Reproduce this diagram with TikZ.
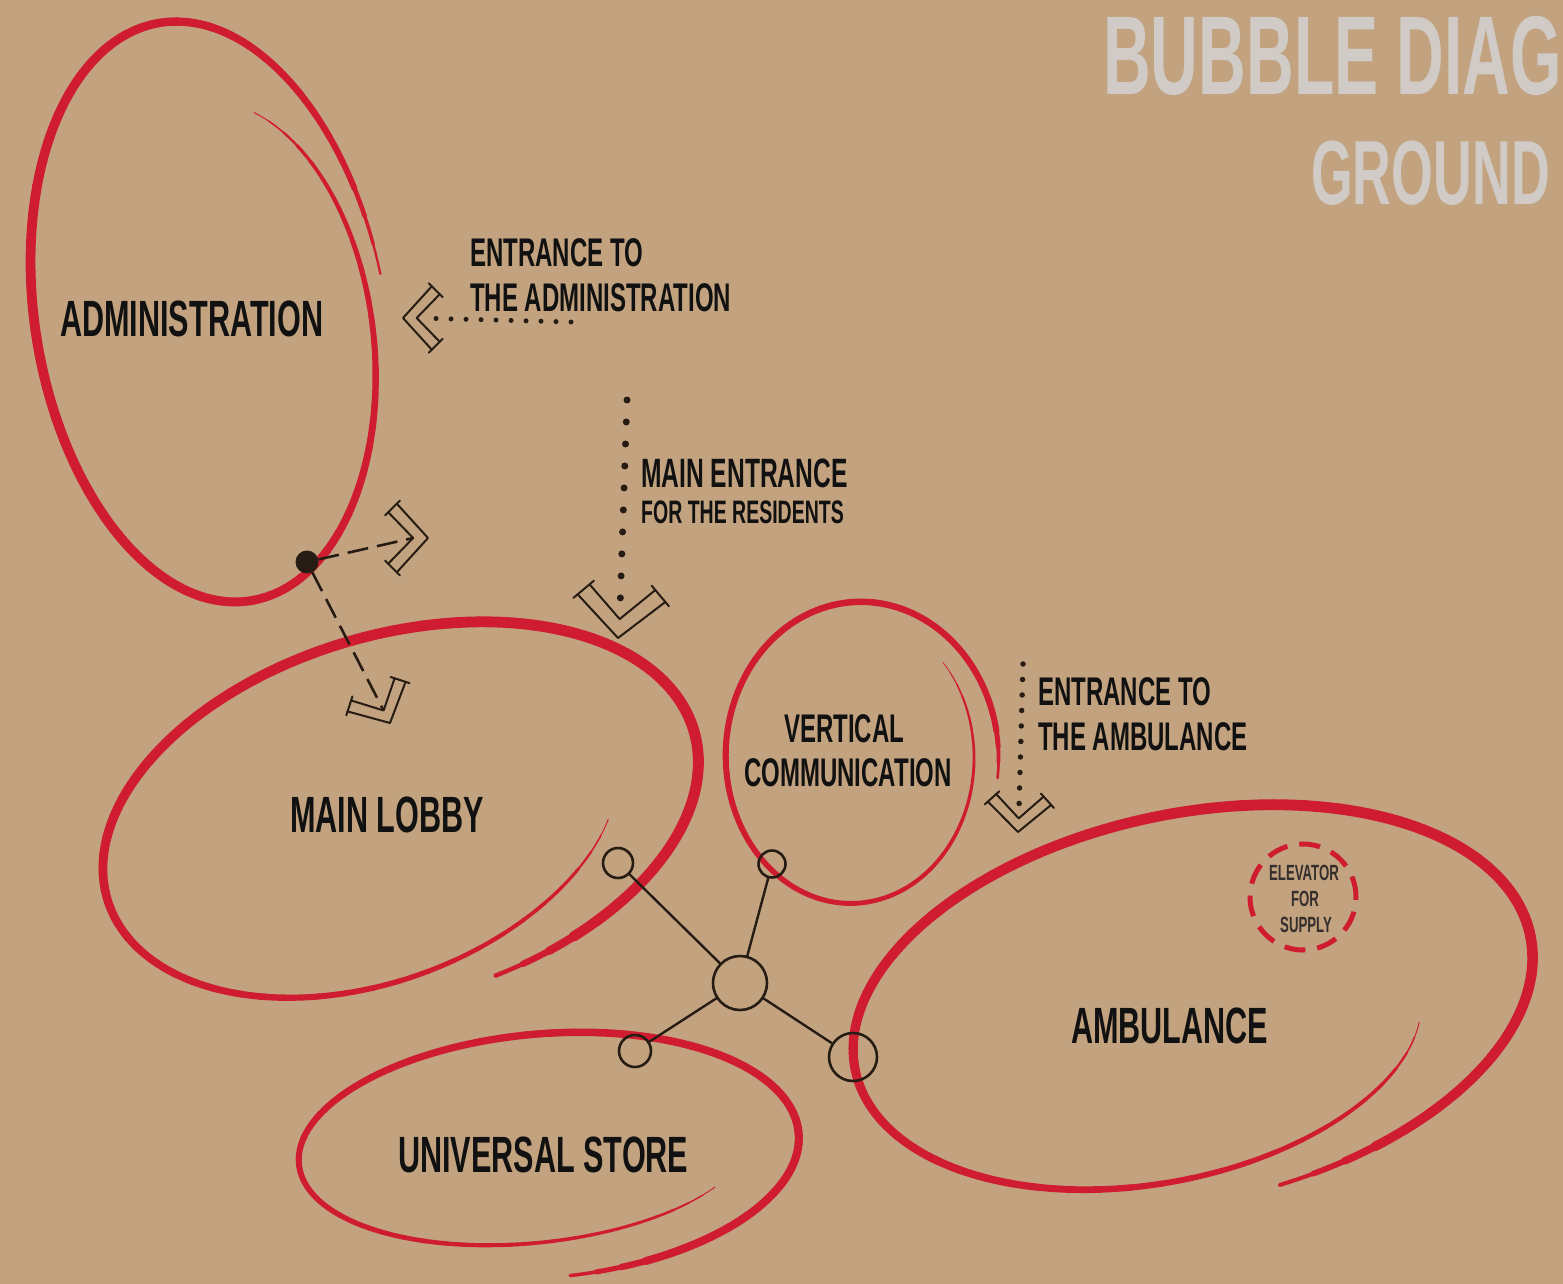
\documentclass[tikz,border=0pt]{standalone}
\usepackage{fontspec}
\newfontfamily\lab{Liberation Sans}[FakeStretch=0.6]
\newfontfamily\ttl{Liberation Sans}[FakeStretch=0.59]
\definecolor{paper}{RGB}{195,163,127}
\definecolor{bred}{RGB}{208,28,48}
\definecolor{inkc}{RGB}{38,28,20}
\definecolor{txt}{RGB}{17,17,17}
\definecolor{ttlc}{RGB}{208,203,198}
\definecolor{elevtxt}{RGB}{52,46,44}
\pgfkeys{/sp/.cd,
 cx/.store in=\spcx, cy/.store in=\spcy, rot/.store in=\sprot,
 a0/.store in=\spaa, a1/.store in=\spab, b0/.store in=\spba, b1/.store in=\spbb,
 t0/.store in=\spta, t1/.store in=\sptb, p/.store in=\spp,
 w0/.store in=\spwa, wm/.store in=\spwm, w1/.store in=\spwb}
\newcommand\redspiral[1]{%
 \pgfkeys{/sp/.cd,p=1,rot=0,#1}%
 \foreach \i in {0,...,71}{%
  \pgfmathsetmacro\sA{\i/72}%
  \pgfmathsetmacro\sB{(\i+1)/72}%
  \pgfmathsetmacro\sM{(\i+0.5)/72}%
  \pgfmathsetmacro\wd{(\spwa*(1-\sM)^2+2*\spwm*\sM*(1-\sM)+\spwb*\sM^2)*min(1,0.35+0.65*min(\sM,1-\sM)/0.05)}%
  \draw[bubble, line width=\wd pt, shift={(\spcx,\spcy)}, rotate=\sprot]
   plot[domain=\sA:\sB, samples=5, variable=\q]
   ({(\spab-(\spab-\spaa)*(1.001-\q)^\spp)*cos(\spta+(\sptb-\spta)*\q)},
    {(\spbb-(\spbb-\spba)*(1.001-\q)^\spp)*sin(\spta+(\sptb-\spta)*\q)});
 }}
\tikzset{
 bubble/.style={draw=bred, line cap=round, line join=round},
 ink/.style={draw=inkc, line width=2pt, line cap=round, line join=round},
 netc/.style={circle, draw=inkc, line width=2.6pt, inner sep=0pt},
 dotline/.style={draw=inkc, line width=#1, line cap=round},
 dashln/.style={draw=inkc, line width=2.6pt, dash pattern=on 21pt off 9pt},
 lbl/.style={text=txt, inner sep=0pt, anchor=base west},
 chevron/.pic={
  \draw[ink] (-44,-40) -- (0,0) -- (44,-40);
  \draw[ink] (-33,-51) -- (0,-19) -- (33,-51);
  \draw[ink] (-48,-36) -- (-29,-55);
  \draw[ink] (48,-36) -- (29,-55);
  \coordinate (-tip) at (0,-19);
 }
}
\begin{document}
\begin{tikzpicture}[x=1pt,y=-1pt]
\useasboundingbox (0,0) rectangle (1563,1284);
\clip (0,0) rectangle (1563,1284);
\fill[paper] (0,0) rectangle (1563,1284);

% title
\node[inner sep=0pt, anchor=base west, text=ttlc, font=\ttl\bfseries\fontsize{112}{112}\selectfont] (title1) at (1103,95) {BUBBLE DIAG};
\node[inner sep=0pt, anchor=base west, text=ttlc, font=\ttl\bfseries\fontsize{91}{91}\selectfont] (title2) at (1311,205) {GROUND};

% bubbles
\redspiral{cx=210,cy=320,rot=10,a0=150,a1=176,b0=232,b1=302,t0=-58,t1=357,p=3,w0=2,wm=16,w1=5}
\redspiral{cx=400,cy=816,rot=16,a0=250,a1=306,b0=101,b1=182,t0=37,t1=441,p=8,w0=2,wm=14,w1=10}
\redspiral{cx=856,cy=757,rot=-4,a0=143,a1=115,b0=160,b1=140,t0=4,t1=-406,p=1,w0=6,wm=8,w1=1.5}
\redspiral{cx=538,cy=1150,rot=4,a0=215,a1=266,b0=84,b1=128,t0=36,t1=445,p=1.5,w0=2,wm=9,w1=8}
\redspiral{cx=1186,cy=1008,rot=12,a0=252,a1=352,b0=140,b1=195,t0=26.5,t1=441,p=4,w0=2,wm=15,w1=9}

% elevator
\node[circle, draw=bred, line width=5pt, dash pattern=on 21pt off 12pt, minimum size=106pt, inner sep=0pt] (elev) at (1303,897) {};
\node[inner sep=0pt, anchor=base, text=elevtxt, font=\lab\bfseries\fontsize{22}{22}\selectfont] (elev1) at (1304,880) {ELEVATOR};
\node[inner sep=0pt, anchor=base, text=elevtxt, font=\lab\bfseries\fontsize{22}{22}\selectfont] (elev2) at (1305,906) {FOR};
\node[inner sep=0pt, anchor=base, text=elevtxt, font=\lab\bfseries\fontsize{22}{22}\selectfont] (elev3) at (1306,932) {SUPPLY};

% labels
\node[lbl, font=\lab\bfseries\fontsize{51}{51}\selectfont] (admin) at (60,336) {ADMINISTRATION};
\node[lbl, font=\lab\bfseries\fontsize{51}{51}\selectfont] (lobby) at (290,832) {MAIN LOBBY};
\node[lbl, font=\lab\bfseries\fontsize{51}{51}\selectfont] (store) at (398,1172) {UNIVERSAL STORE};
\node[lbl, font=\lab\bfseries\fontsize{51}{51}\selectfont] (amb) at (1071,1043) {AMBULANCE};
\node[inner sep=0pt, anchor=base, text=txt, font=\lab\bfseries\fontsize{40}{40}\selectfont] (vert1) at (844,742) {VERTICAL};
\node[inner sep=0pt, anchor=base, text=txt, font=\lab\bfseries\fontsize{40}{40}\selectfont] (vert2) at (848,786) {COMMUNICATION};
\node[lbl, font=\lab\bfseries\fontsize{40}{40}\selectfont] (ea1) at (470,266) {ENTRANCE TO};
\node[lbl, font=\lab\bfseries\fontsize{40}{40}\selectfont] (ea2) at (470,311) {THE ADMINISTRATION};
\node[lbl, font=\lab\bfseries\fontsize{41}{41}\selectfont] (me1) at (641,487) {MAIN ENTRANCE};
\node[lbl, font=\lab\bfseries\fontsize{32.5}{32.5}\selectfont] (me2) at (641,523) {FOR THE RESIDENTS};
\node[lbl, font=\lab\bfseries\fontsize{40}{40}\selectfont] (eb1) at (1038,705) {ENTRANCE TO};
\node[lbl, font=\lab\bfseries\fontsize{40}{40}\selectfont] (eb2) at (1038,750) {THE AMBULANCE};

% chevrons
\pic[rotate=-90, scale=0.72] (chA) at (403,318) {chevron};
\pic[rotate=-5] (chM) at (618,638) {chevron};
\pic[rotate=-3, scale=0.72] (chB) at (1018,832) {chevron};
\pic[rotate=90, scale=0.78] (chR) at (428,538) {chevron};
\pic[rotate=27, scale=0.74] (chD) at (390,723) {chevron};

% dotted entrances
\coordinate (sA) at (571,322);
\coordinate (sM) at (627,400);
\coordinate (sB) at (1023,664);
\draw[dotline=5pt, dash pattern=on 0pt off 15pt, shorten >=10pt] (sA) -- (chA-tip);
\draw[dotline=7pt, dash pattern=on 0pt off 22pt, shorten >=12pt] (sM) -- (chM-tip);
\draw[dotline=5.5pt, dash pattern=on 0pt off 15.5pt, shorten >=8pt] (sB) -- (chB-tip);

% dot with dashed arrows
\node[circle, fill=inkc, minimum size=23pt, inner sep=0pt] (dot) at (307,562) {};
\draw[dashln] (dot) -- (chR-tip);
\draw[dashln] (dot) -- (chD-tip);

% network
\node[netc, minimum size=54pt] (hub) at (740,983) {};
\node[netc, minimum size=30pt] (nA) at (618,863) {};
\node[netc, minimum size=27pt] (nB) at (772,864) {};
\node[netc, minimum size=32pt] (nC) at (635,1051) {};
\node[netc, minimum size=48pt] (nD) at (853,1057) {};
\draw[ink, line width=2.4pt] (hub) -- (nA);
\draw[ink, line width=2.4pt] (hub) -- (nB);
\draw[ink, line width=2.4pt] (hub) -- (nC);
\draw[ink, line width=2.4pt] (hub) -- (nD);
\end{tikzpicture}
\end{document}
